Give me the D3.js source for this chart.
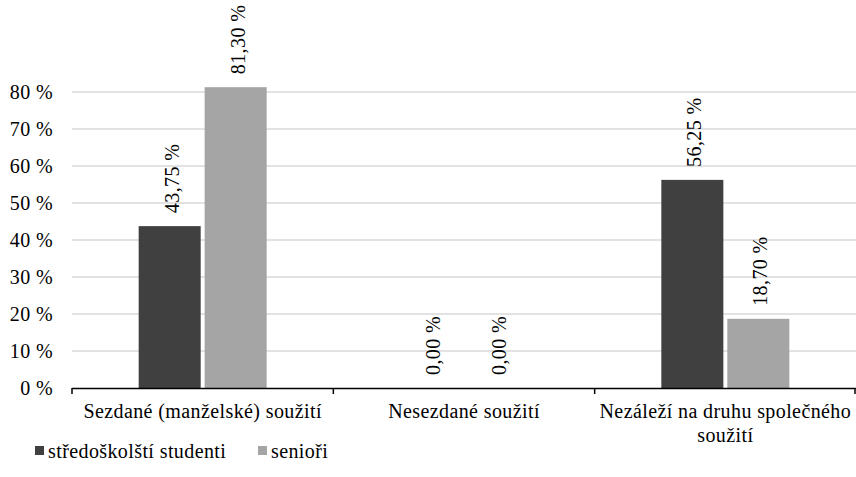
<!DOCTYPE html>
<html><head><meta charset="utf-8">
<script src="https://cdn.jsdelivr.net/npm/d3@7/dist/d3.min.js"></script>
<style>body{margin:0;background:#fff}svg{display:block}</style>
</head><body><svg id="c" width="856" height="477"></svg>
<script>
const categories = [["Sezdané (manželské) soužití"], ["Nesezdané soužití"], ["Nezáleží na druhu společného", "soužití"]];
const seriesNames = ["středoškolští studenti", "senioři"];
const students = [43.75, 0, 56.25];
const seniors = [81.30, 0, 18.70];
const valueLabels = [["43,75 %", "0,00 %", "56,25 %"], ["81,30 %", "0,00 %", "18,70 %"]];
const yTicks = [0, 10, 20, 30, 40, 50, 60, 70, 80];
const colors = ["#404040", "#a5a5a5"];

const FONT = "Tinos";
const FS = 20;
const LS = 0.4;
const svg = d3.select("#c");
const y = d3.scaleLinear().domain([0, 80]).range([388, 92]);
const x0 = d3.scaleBand().domain(d3.range(categories.length)).range([72, 856]);
const x1 = d3.scaleBand().domain([0, 1]).range([x0.bandwidth()/2 - 64, x0.bandwidth()/2 + 64]).paddingInner(0.06);

function txt(sel) {
  return sel.attr("font-family", () => FONT).attr("font-size", FS).attr("letter-spacing", LS);
}

// gridlines
svg.append("g").selectAll("line").data(yTicks.filter(d => d > 0)).join("line")
  .attr("x1", 72).attr("x2", 856).attr("y1", d => y(d)).attr("y2", d => y(d))
  .attr("stroke", "#d9d9d9").attr("stroke-width", 1.3);

// y labels
svg.append("g").selectAll("text").data(yTicks).join("text")
  .attr("x", 53).attr("y", d => y(d)).attr("dy", "0.35em").attr("text-anchor", "end")
  .call(txt).text(d => d + " %");

const series = [students, seniors];
series.forEach((vals, s) => {
  const g = svg.append("g");
  g.selectAll("rect").data(vals).join("rect")
    .attr("x", (d, i) => x0(i) + x1(s)).attr("width", x1.bandwidth())
    .attr("y", d => y(d)).attr("height", d => y(0) - y(d))
    .attr("fill", colors[s]);
  g.selectAll("text").data(vals).join("text")
    .attr("transform", (d, i) => `translate(${x0(i) + x1(s) + x1.bandwidth()/2 + 2},${y(d) - 13}) rotate(-90)`)
    .attr("dy", "0.35em").attr("text-anchor", "start").call(txt)
    .text((d, i) => valueLabels[s][i]);
});

// x axis
svg.append("line").attr("x1", 72).attr("x2", 856).attr("y1", 388.5).attr("y2", 388.5)
  .attr("stroke", "#000").attr("stroke-width", 1.5);
const tickPos = d3.range(categories.length).map(i => x0(i)).concat([856]);
svg.append("g").selectAll("line").data(tickPos).join("line")
  .attr("x1", d => Math.min(d, 855)).attr("x2", d => Math.min(d, 855)).attr("y1", 388).attr("y2", 394)
  .attr("stroke", "#000").attr("stroke-width", 1.5);

svg.append("g").selectAll("text").data(categories).join("text")
  .attr("text-anchor", "middle").call(txt)
  .attr("transform", (d, i) => `translate(${x0(i) + x0.bandwidth()/2},418)`)
  .each(function(d) {
    d3.select(this).selectAll("tspan").data(d).join("tspan")
      .attr("x", 0).attr("dy", (t, j) => j === 0 ? 0 : 24).text(t => t);
  });

// legend
const leg = svg.append("g");
const legX = [35, 258];
seriesNames.forEach((n, i) => {
  leg.append("rect").attr("x", legX[i]).attr("y", 446).attr("width", 9).attr("height", 9).attr("fill", colors[i]);
  leg.append("text").attr("x", legX[i] + 13).attr("y", 451).attr("dy", "0.35em").call(txt).text(n);
});
</script></body></html>
